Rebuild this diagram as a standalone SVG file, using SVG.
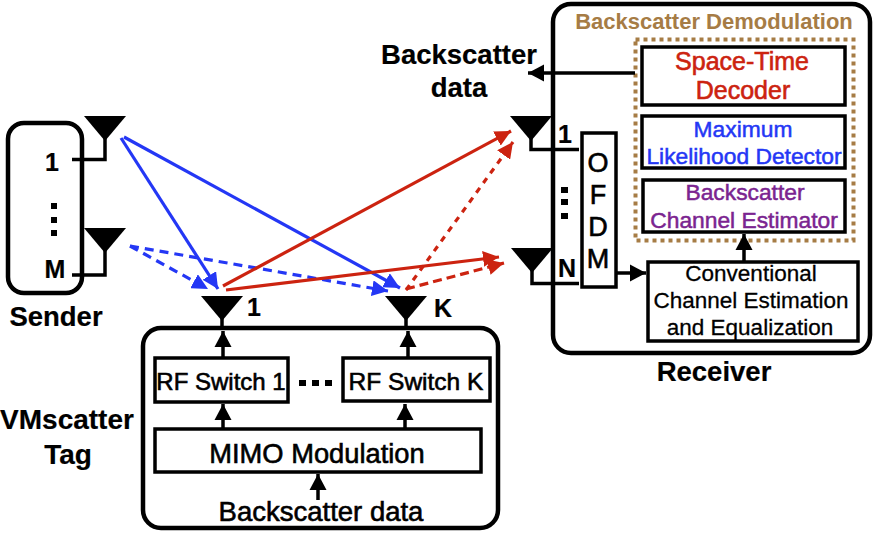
<svg xmlns="http://www.w3.org/2000/svg" width="875" height="533" viewBox="0 0 875 533">
<style>
text{font-family:"Liberation Sans",Arial,sans-serif;text-anchor:middle}
.b{fill:#000;font-weight:700;stroke:#000;stroke-width:.2}
.r{fill:#000;stroke:#000;stroke-width:.6}
.box{fill:#fff;stroke:#000;stroke-width:3.500}
.big{fill:none;stroke:#000;stroke-width:4.500}
.w{fill:none;stroke:#000;stroke-width:3.500}
.blue{fill:none;stroke:#2437f5;stroke-width:3.200}
.red{fill:none;stroke:#cc2310;stroke-width:3.200}
.tr{fill:#cc2310;stroke:#cc2310;stroke-width:.6}
.tb{fill:#2437f5;stroke:#2437f5;stroke-width:.5}
.tp{fill:#7b2490;stroke:#7b2490;stroke-width:.5}
.d1{stroke-dasharray:9 6}
.d2{stroke-dasharray:6 6}
.d3{stroke-dasharray:9 5}
</style>
<defs>
<marker id="ab" markerUnits="userSpaceOnUse" markerWidth="18" markerHeight="18" refX="16" refY="9" orient="auto"><path d="M0 0.500L16 9L0 17.500z" fill="#000"/></marker>
<marker id="au" markerUnits="userSpaceOnUse" markerWidth="18" markerHeight="16" refX="16" refY="8" orient="auto"><path d="M0 0L16 8L0 16z" fill="#2437f5"/></marker>
<marker id="ar" markerUnits="userSpaceOnUse" markerWidth="18" markerHeight="16" refX="16" refY="8" orient="auto"><path d="M0 0L16 8L0 16z" fill="#cc2310"/></marker>
<path id="ant" d="M0 0H42L21 25z" fill="#000"/>
</defs>
<g id="sender">
<rect class="big" x="8" y="123" width="74" height="170" rx="16"/>
<text class="b" x="52" y="171" font-size="25">1</text>
<text class="b" x="55" y="278" font-size="25">M</text>
<rect x="51" y="203" width="6" height="6"/><rect x="51" y="217" width="6" height="6"/><rect x="51" y="230" width="6" height="6"/>
<text class="b" x="56" y="326" font-size="27.500">Sender</text>
</g>
<g id="sender-ant-1"><use href="#ant" x="84" y="116"/><path class="w" d="M105 136V159.500H72"/></g>
<g id="sender-ant-m"><use href="#ant" x="84" y="228"/><path class="w" d="M105 248V275H72"/></g>
<g id="tag">
<rect class="big" x="143" y="328" width="355" height="200" rx="18"/>
<text class="b" x="67" y="429" font-size="28">VMscatter</text>
<text class="b" x="68" y="464" font-size="28">Tag</text>
<text class="b" x="254" y="316" font-size="25">1</text>
<text class="b" x="443" y="317" font-size="25">K</text>
<use href="#ant" x="201" y="296"/><use href="#ant" x="385" y="296"/>
<rect x="299" y="380" width="7" height="6"/><rect x="312" y="380" width="7" height="6"/><rect x="325" y="380" width="7" height="6"/>
<text class="r" x="321" y="521" font-size="27.500">Backscatter data</text>
</g>
<g id="rf-switch-1"><rect class="box" x="155" y="358" width="133" height="44"/><text class="r" x="221" y="390" font-size="24">RF Switch 1</text></g>
<g id="rf-switch-k"><rect class="box" x="343" y="358" width="147" height="43"/><text class="r" x="416" y="390" font-size="24.500">RF Switch K</text></g>
<g id="mimo"><rect class="box" x="155" y="429" width="326" height="43"/><text class="r" x="317" y="463" font-size="27.300">MIMO Modulation</text></g>
<g id="receiver">
<rect class="big" x="553" y="4" width="317" height="349" rx="18"/>
<text x="714" y="29" font-size="22" font-weight="700" fill="#a67c45">Backscatter Demodulation</text>
<rect x="635.500" y="39.500" width="218" height="201" fill="none" stroke="#a67c45" stroke-width="4" stroke-dasharray="4 4"/>
<text class="b" x="459" y="64" font-size="27.500">Backscatter</text>
<text class="b" x="459" y="97" font-size="27.500">data</text>
<text class="b" x="714" y="381" font-size="27.500">Receiver</text>
<use href="#ant" x="510" y="116"/><use href="#ant" x="511" y="248"/>
<text class="b" x="565" y="143" font-size="25">1</text>
<text class="b" x="567" y="277" font-size="25">N</text>
<rect x="561" y="187" width="7" height="6"/><rect x="561" y="199" width="7" height="6"/><rect x="561" y="213" width="7" height="6"/>
</g>
<g id="space-time"><rect class="box" x="642" y="47" width="203" height="58"/><text class="tr" x="742" y="70" font-size="25">Space-Time</text><text class="tr" x="743" y="99" font-size="25">Decoder</text></g>
<g id="ml-detector"><rect class="box" x="642" y="116" width="203" height="52"/><text class="tb" x="743" y="137" font-size="22.800">Maximum</text><text class="tb" x="744" y="164" font-size="22.800">Likelihood Detector</text></g>
<g id="channel-estimator"><rect class="box" x="643" y="180" width="202" height="52"/><text class="tp" x="745" y="200" font-size="22.800">Backscatter</text><text class="tp" x="744" y="228" font-size="22.800">Channel Estimator</text></g>
<g id="ofdm"><rect class="box" x="582" y="133" width="34" height="154"/>
<text class="r" x="598" y="172" font-size="27">O</text><text class="r" x="598" y="204" font-size="27">F</text><text class="r" x="598" y="236" font-size="27">D</text><text class="r" x="598" y="268" font-size="27">M</text></g>
<g id="conventional"><rect class="box" x="648" y="262" width="210" height="79"/><text class="r" style="stroke-width:.3" x="751" y="281" font-size="22.500">Conventional</text><text class="r" style="stroke-width:.3" x="751" y="308" font-size="22.500">Channel Estimation</text><text class="r" style="stroke-width:.3" x="750" y="335" font-size="22.500">and Equalization</text></g>
<g id="connectors">
<path class="w" d="M531 136V149.500H579M532 268V283.500H579"/>
<path class="w" d="M222 318V330M406 318V330"/>
<path class="w" marker-end="url(#ab)" d="M223 358V331"/>
<path class="w" marker-end="url(#ab)" d="M408 358V331"/>
<path class="w" marker-end="url(#ab)" d="M223 429V404"/>
<path class="w" marker-end="url(#ab)" d="M405 429V404"/>
<path class="w" marker-end="url(#ab)" d="M318 500V474"/>
<path class="w" marker-end="url(#ab)" d="M635 73H528"/>
<path class="w" marker-end="url(#ab)" d="M616 273H646"/>
<path class="w" marker-end="url(#ab)" d="M744 262V234"/>
<path class="blue" marker-end="url(#au)" d="M121 138L218 289"/>
<path class="blue" marker-end="url(#au)" d="M124 137L400 288"/>
<path class="blue d1" marker-end="url(#au)" d="M130 246L208 289"/>
<path class="blue d1" marker-end="url(#au)" d="M130 246L388 291"/>
<path class="red" marker-end="url(#ar)" d="M223 286L511 131"/>
<path class="red" marker-end="url(#ar)" d="M226 290L499 257"/>
<path class="red d2" marker-end="url(#ar)" d="M406 290L513 142"/>
<path class="red d3" marker-end="url(#ar)" d="M406 289L504 263"/>
</g>
</svg>
